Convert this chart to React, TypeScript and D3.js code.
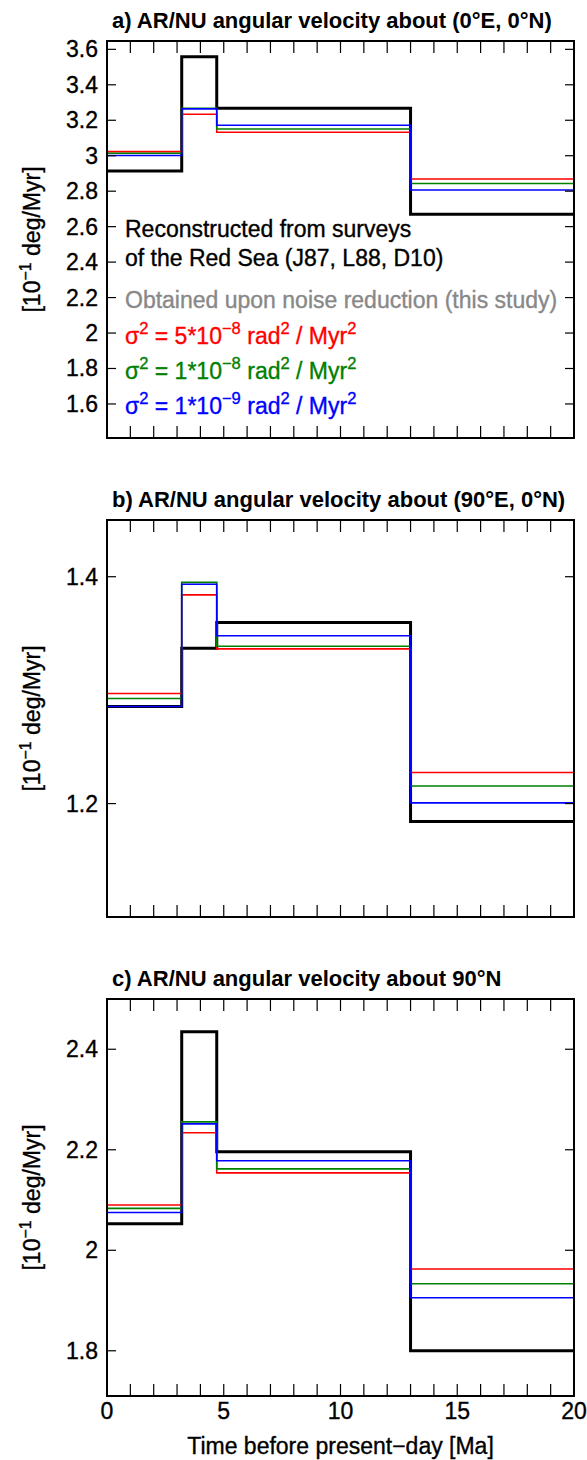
import React from 'react';
import * as d3 from 'd3';

const W = 587;
const H = 1460;

// Step boundaries (Ma)
const boundaries = [0, 3.2, 4.7, 13.0, 20];
const xMinorTicks = d3.range(0, 21, 1);
const xLabelTicks = [0, 5, 10, 15, 20];

// Panel a: about (0°E, 0°N)
const aBlack = [2.914, 3.558, 3.268, 2.67];
const aRed = [3.023, 3.234, 3.132, 2.869];
const aGreen = [3.014, 3.268, 3.151, 2.843];
const aBlue = [3.001, 3.264, 3.172, 2.807];
const aTicks = [1.6, 1.8, 2.0, 2.2, 2.4, 2.6, 2.8, 3.0, 3.2, 3.4, 3.6];
const aDomain = [1.408, 3.647];

// Panel b: about (90°E, 0°N)
const bBlack = [1.2856, 1.337, 1.3597, 1.1842];
const bRed = [1.297, 1.384, 1.3364, 1.2274];
const bGreen = [1.2926, 1.395, 1.3387, 1.2155];
const bBlue = [1.2856, 1.3933, 1.348, 1.2006];
const bTicks = [1.2, 1.4];
const bDomain = [1.1, 1.45];

// Panel c: about 90°N
const cBlack = [2.0527, 2.435, 2.196, 1.8002];
const cRed = [2.09, 2.2337, 2.154, 1.9626];
const cGreen = [2.0833, 2.2555, 2.162, 1.9334];
const cBlue = [2.0753, 2.2515, 2.178, 1.9056];
const cTicks = [1.8, 2.0, 2.2, 2.4];
const cDomain = [1.71, 2.5];

const titles = [
  'a) AR/NU angular velocity about (0°E, 0°N)',
  'b) AR/NU angular velocity about (90°E, 0°N)',
  'c) AR/NU angular velocity about 90°N',
];

const COLORS = { black: '#000000', red: '#ff0000', green: '#008000', blue: '#0000ff', gray: '#888888' };
const FONT = '"Liberation Sans", Arial, Helvetica, sans-serif';
const FS = 23;
const TS = 22;
const SW = 0.35;

const PL = 107;
const PR = 574;
const PH = 397;
const panelTops = [41, 520, 999];

const x = d3.scaleLinear().domain([0, 20]).range([PL, PR]);

function stepPath(vals: number[], y: d3.ScaleLinear<number, number>) {
  const pts: [number, number][] = vals.map((v, i) => [boundaries[i], v]);
  pts.push([boundaries[boundaries.length - 1], vals[vals.length - 1]]);
  const line = d3
    .line<[number, number]>()
    .x((d) => x(d[0]))
    .y((d) => y(d[1]))
    .curve(d3.curveStepAfter);
  return line(pts) || '';
}

type Seg = { t: string; sup?: boolean };

function RichText({ segs, xPos, y, fill, size }: { segs: Seg[]; xPos: number; y: number; fill: string; size: number }) {
  const supSize = size * 0.72;
  const shift = size * 0.42;
  let raised = false;
  const children = segs.map((s, i) => {
    let dy = 0;
    if (s.sup && !raised) {
      dy = -shift;
      raised = true;
    } else if (!s.sup && raised) {
      dy = shift;
      raised = false;
    }
    return (
      <tspan key={i} dy={dy} fontSize={s.sup ? supSize : size}>
        {s.t}
      </tspan>
    );
  });
  return (
    <text x={xPos} y={y} fill={fill} stroke={fill} strokeWidth={SW} fontFamily={FONT} fontSize={size}>
      {children}
    </text>
  );
}

function fmt(v: number) {
  return d3.format('~g')(+v.toFixed(2));
}

function Panel({
  idx,
  domain,
  ticks,
  series,
  showXLabels,
  legend,
}: {
  idx: number;
  domain: number[];
  ticks: number[];
  series: { vals: number[]; color: string; width: number }[];
  showXLabels: boolean;
  legend?: boolean;
}) {
  const top = panelTops[idx];
  const bottom = top + PH;
  const y = d3.scaleLinear().domain(domain).range([bottom, top]);
  const cy = (top + bottom) / 2;
  const txt = { fontFamily: FONT, fontSize: FS, fill: '#000', stroke: '#000', strokeWidth: SW };
  return (
    <g>
      <text x={112} y={top - 13} fontFamily={FONT} fontSize={TS} fontWeight="bold" fill="#000">
        {titles[idx]}
      </text>
      {series.map((s, i) => (
        <path key={i} d={stepPath(s.vals, y)} fill="none" stroke={s.color} strokeWidth={s.width} strokeLinejoin="miter" />
      ))}
      <rect x={PL} y={top} width={PR - PL} height={PH} fill="none" stroke="#000" strokeWidth={2} />
      {xMinorTicks
        .filter((t) => t > 0 && t < 20)
        .map((t) => (
          <g key={t}>
            <line x1={x(t)} x2={x(t)} y1={bottom} y2={bottom - 12} stroke="#000" strokeWidth={1.2} />
            <line x1={x(t)} x2={x(t)} y1={top} y2={top + 12} stroke="#000" strokeWidth={1.2} />
          </g>
        ))}
      {ticks.map((t) => (
        <g key={t}>
          <line x1={PL} x2={PL + 9} y1={y(t)} y2={y(t)} stroke="#000" strokeWidth={1.2} />
          <line x1={PR} x2={PR - 9} y1={y(t)} y2={y(t)} stroke="#000" strokeWidth={1.2} />
          <text x={98} y={y(t) + 8} textAnchor="end" {...txt}>
            {fmt(t)}
          </text>
        </g>
      ))}
      <text transform={`translate(32,${cy}) rotate(-90)`} textAnchor="middle" dy="0.35em" {...txt}>
        <tspan>[10</tspan>
        <tspan dy={-9} fontSize={16}>−1</tspan>
        <tspan dy={9}> deg/Myr]</tspan>
      </text>
      {showXLabels && (
        <g>
          {xLabelTicks.map((t) => (
            <text key={t} x={x(t)} y={bottom + 23} textAnchor="middle" {...txt}>
              {t}
            </text>
          ))}
          <text x={x(10)} y={bottom + 58} textAnchor="middle" {...txt}>
            Time before present−day [Ma]
          </text>
        </g>
      )}
      {legend && (
        <g>
          <text x={125} y={top + 196} {...txt}>
            Reconstructed from surveys
          </text>
          <text x={125} y={top + 225} {...txt}>
            of the Red Sea (J87, L88, D10)
          </text>
          <text x={125} y={top + 267} {...txt} fill={COLORS.gray} stroke={COLORS.gray}>
            Obtained upon noise reduction (this study)
          </text>
          <RichText
            xPos={125}
            y={top + 303}
            fill={COLORS.red}
            size={FS}
            segs={[{ t: 'σ' }, { t: '2', sup: true }, { t: ' = 5*10' }, { t: '−8', sup: true }, { t: ' rad' }, { t: '2', sup: true }, { t: ' / Myr' }, { t: '2', sup: true }]}
          />
          <RichText
            xPos={125}
            y={top + 338}
            fill={COLORS.green}
            size={FS}
            segs={[{ t: 'σ' }, { t: '2', sup: true }, { t: ' = 1*10' }, { t: '−8', sup: true }, { t: ' rad' }, { t: '2', sup: true }, { t: ' / Myr' }, { t: '2', sup: true }]}
          />
          <RichText
            xPos={125}
            y={top + 373}
            fill={COLORS.blue}
            size={FS}
            segs={[{ t: 'σ' }, { t: '2', sup: true }, { t: ' = 1*10' }, { t: '−9', sup: true }, { t: ' rad' }, { t: '2', sup: true }, { t: ' / Myr' }, { t: '2', sup: true }]}
          />
        </g>
      )}
    </g>
  );
}

function mk(black: number[], red: number[], green: number[], blue: number[]) {
  return [
    { vals: black, color: COLORS.black, width: 3 },
    { vals: red, color: COLORS.red, width: 1.6 },
    { vals: green, color: COLORS.green, width: 1.6 },
    { vals: blue, color: COLORS.blue, width: 1.6 },
  ];
}

export default function App() {
  return (
    <svg width={W} height={H} style={{ position: 'absolute', left: 0, top: 0, background: '#fff' }}>
      <rect x={0} y={0} width={W} height={H} fill="#fff" />
      <Panel idx={0} domain={aDomain} ticks={aTicks} series={mk(aBlack, aRed, aGreen, aBlue)} showXLabels={false} legend />
      <Panel idx={1} domain={bDomain} ticks={bTicks} series={mk(bBlack, bRed, bGreen, bBlue)} showXLabels={false} />
      <Panel idx={2} domain={cDomain} ticks={cTicks} series={mk(cBlack, cRed, cGreen, cBlue)} showXLabels />
    </svg>
  );
}
